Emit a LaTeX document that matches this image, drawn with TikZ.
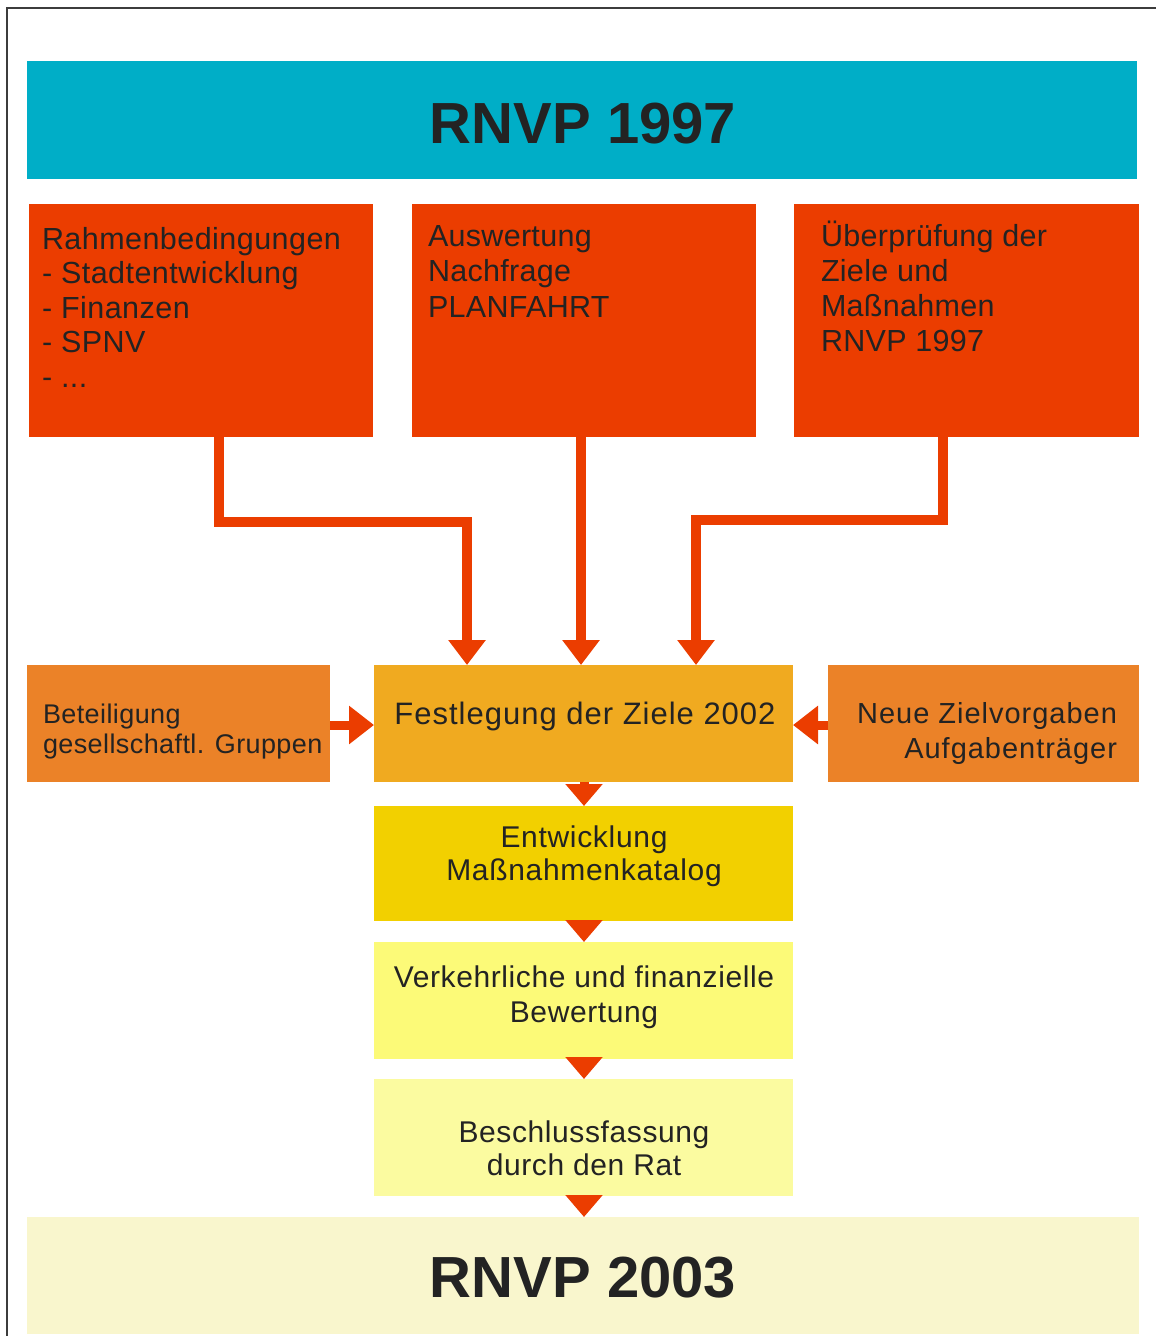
\documentclass[tikz,border=0pt]{standalone}
\usepackage{fontspec}
\setmainfont{Liberation Sans}
\usetikzlibrary{arrows.meta}
\definecolor{cteal}{RGB}{0,174,199}
\definecolor{cred}{RGB}{235,61,0}
\definecolor{cside}{RGB}{235,130,40}
\definecolor{cfest}{RGB}{240,170,32}
\definecolor{centw}{RGB}{242,208,0}
\definecolor{cverk}{RGB}{252,250,120}
\definecolor{cbesch}{RGB}{251,251,160}
\definecolor{cbottom}{RGB}{249,246,205}
\definecolor{ctext}{RGB}{35,35,35}
\definecolor{cframe}{RGB}{60,60,60}
\newcommand{\LinesL}[2]{\vtop{\baselineskip=#1\lineskiplimit=-100pt\halign{##\hfil\cr#2\crcr}}}
\newcommand{\LinesC}[2]{\vtop{\baselineskip=#1\lineskiplimit=-100pt\halign{\hfil##\hfil\cr#2\crcr}}}
\newcommand{\LinesR}[2]{\vtop{\baselineskip=#1\lineskiplimit=-100pt\halign{\hfil##\cr#2\crcr}}}
\newcommand{\SpacedFont}[2]{\fontsize{#1}{#1}\selectfont\addfontfeatures{LetterSpace=#2}}
\tikzset{
  box/.style={rectangle, inner sep=0pt, outer sep=0pt, anchor=north west, draw=none},
  txt/.style={inner sep=0pt, outer sep=0pt, text=ctext},
  conn/.style={draw=cred, line width=10pt, line join=miter, -{Triangle[length=25pt,width=36pt]}},
  sidearrow/.style={draw=cred, line width=9pt, -{Triangle[length=25pt,width=37pt]}},
  stackarrow/.style={draw=cred, line width=9pt, -{Triangle[length=22pt,width=36pt]}},
  frameline/.style={draw=cframe, line width=2pt}
}
\begin{document}
\begin{tikzpicture}[x=1pt,y=-1pt]
\useasboundingbox (0,0) rectangle (1156,1336);
\fill[white] (0,0) rectangle (1156,1336);
\draw[frameline] (7,1336) -- (7,8) -- (1156,8);

% top title
\node[box, fill=cteal, minimum width=1110pt, minimum height=118pt] (top) at (27,61) {};
\node[txt, anchor=base, font=\bfseries\fontsize{58}{60}\selectfont] (toptxt) at (583,143) {RNVP 1997};

% red boxes
\node[box, fill=cred, minimum width=344pt, minimum height=233pt] (r1) at (29,204) {};
\node[box, fill=cred, minimum width=344pt, minimum height=233pt] (r2) at (412,204) {};
\node[box, fill=cred, minimum width=345pt, minimum height=233pt] (r3) at (794,204) {};
\node[txt, anchor=base west, font=\SpacedFont{30.5}{1.5}] (r1txt) at (42,249)
  {\LinesL{34.5pt}{Rahmenbedingungen\cr - Stadtentwicklung\cr - Finanzen\cr - SPNV\cr - ...}};
\node[txt, anchor=base west, font=\SpacedFont{30.5}{1}] (r2txt) at (428,246)
  {\LinesL{35.5pt}{Auswertung\cr Nachfrage\cr PLANFAHRT}};
\node[txt, anchor=base west, font=\SpacedFont{30.5}{1}] (r3txt) at (821,246)
  {\LinesL{35pt}{Überprüfung der\cr Ziele und\cr Maßnahmen\cr RNVP 1997}};

% middle row
\node[box, fill=cside, minimum width=303pt, minimum height=117pt] (bet) at (27,665) {};
\node[box, fill=cfest, minimum width=419pt, minimum height=117pt] (fest) at (374,665) {};
\node[box, fill=cside, minimum width=311pt, minimum height=117pt] (neue) at (828,665) {};
\node[txt, anchor=base west, font=\SpacedFont{27}{1.5}] (bettxt) at (43,723)
  {\LinesL{30pt}{Beteiligung\cr gesellschaftl. Gruppen}};
\node[txt, anchor=base, font=\SpacedFont{31}{3.2}] (festtxt) at (585,724) {Festlegung der Ziele 2002};
\node[txt, anchor=base east, font=\SpacedFont{29}{3.4}] (neuetxt) at (1117,723)
  {\LinesR{35pt}{Neue Zielvorgaben\cr Aufgabenträger}};

% stacked boxes
\node[box, fill=centw, minimum width=419pt, minimum height=115pt] (entw) at (374,806) {};
\node[box, fill=cverk, minimum width=419pt, minimum height=117pt] (verk) at (374,942) {};
\node[box, fill=cbesch, minimum width=419pt, minimum height=117pt] (besch) at (374,1079) {};
\node[box, fill=cbottom, minimum width=1112pt, minimum height=117pt] (bottom) at (27,1217) {};
\node[txt, anchor=base, font=\SpacedFont{30}{2.3}] (entwtxt) at (584,847)
  {\LinesC{33pt}{Entwicklung\cr Maßnahmenkatalog}};
\node[txt, anchor=base, font=\SpacedFont{30}{2}] (verktxt) at (584,987)
  {\LinesC{35pt}{Verkehrliche und finanzielle\cr Bewertung}};
\node[txt, anchor=base, font=\SpacedFont{30}{2}] (beschtxt) at (584,1142)
  {\LinesC{33pt}{Beschlussfassung\cr durch den Rat}};
\node[txt, anchor=base, font=\bfseries\fontsize{58}{60}\selectfont] (bottxt) at (583,1297) {RNVP 2003};

% connectors from red boxes
\coordinate (k1) at (219,522);
\coordinate (k2) at (467,522);
\coordinate (k3) at (943,520);
\coordinate (k4) at (696,520);
\coordinate (k5) at (581,500);
\draw[conn] (r1.south -| k1) -- (k1) -- (k2) -- (fest.north -| k2);
\draw[conn] (r2.south -| k5) -- (fest.north -| k5);
\draw[conn] (r3.south -| k3) -- (k3) -- (k4) -- (fest.north -| k4);

% side arrows
\coordinate (k6) at (0,725);
\draw[sidearrow] (bet.east |- k6) -- (fest.west |- k6);
\draw[sidearrow] (neue.west |- k6) -- (fest.east |- k6);

% stacked arrows
\coordinate (k7) at (584,0);
\draw[stackarrow] (fest.south -| k7) -- (entw.north -| k7);
\draw[stackarrow] (entw.south -| k7) -- (verk.north -| k7);
\draw[stackarrow] (verk.south -| k7) -- (besch.north -| k7);
\draw[stackarrow] (besch.south -| k7) -- (bottom.north -| k7);
\end{tikzpicture}
\end{document}
